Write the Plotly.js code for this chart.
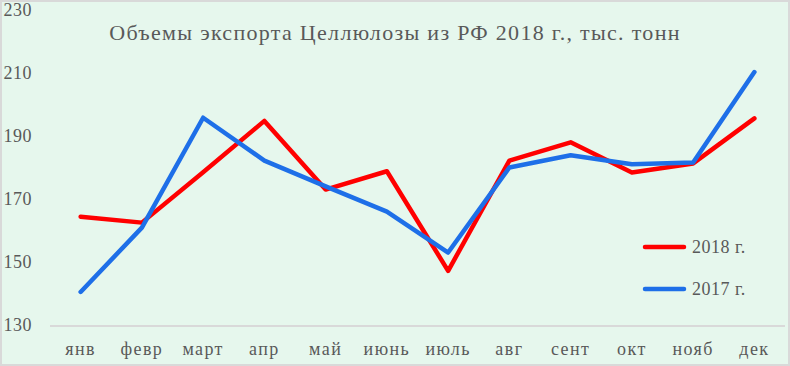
<!DOCTYPE html>
<html>
<head>
<meta charset="utf-8">
<script src="https://cdn.plot.ly/plotly-3.0.1.min.js"></script>
<style>
html, body { margin: 0; padding: 0; background: #ffffff; }
#wrap { position: relative; width: 790px; height: 366px; box-sizing: border-box; border: 2px solid #d9d9d9; background: #e6f7ed; }
#chart { width: 786px; height: 362px; }
.gtitle { letter-spacing: 1.3px; }
.xtick text { letter-spacing: 1.4px; }
.ytick text { letter-spacing: 0.5px; }
.annotation-text { letter-spacing: 0.5px; }
.scatterlayer path.js-line { stroke-linecap: round; stroke-linejoin: round; }
.shapelayer path { stroke-linecap: round; }
</style>
</head>
<body>
<div id="wrap"><div id="chart"></div></div>
<script>
const months = ["янв", "февр", "март", "апр", "май", "июнь", "июль", "авг", "сент", "окт", "нояб", "дек"];
const series2018 = [164.4, 162.5, 178.5, 194.8, 173.0, 178.8, 147.2, 182.2, 188.0, 178.4, 181.3, 195.6];
const series2017 = [140.5, 160.9, 195.8, 182.2, 174.0, 166.0, 153.0, 180.0, 183.9, 181.0, 181.6, 210.3];
const seriesNames = ["2018 г.", "2017 г."];
const seriesColors = ["#ff0000", "#1e6fe8"];
const yTicks = [130, 150, 170, 190, 210, 230];
const titleText = "Объемы экспорта Целлюлозы из РФ 2018 г., тыс. тонн";

const fontFam = "Liberation Serif, DejaVu Serif, serif";
const textColor = "#595959";

const traces = [series2018, series2017].map((vals, i) => ({
  x: months, y: vals, type: "scatter", mode: "lines", name: seriesNames[i],
  line: { color: seriesColors[i], width: 4.5 }, showlegend: false, hoverinfo: "x+y"
}));

// legend drawn as shapes + annotations built from the series names
const legY = [0.2476, 0.1143];
const shapes = seriesNames.map((n, i) => ({
  type: "line", xref: "paper", yref: "paper",
  x0: 0.8095, x1: 0.8626, y0: legY[i], y1: legY[i],
  line: { color: seriesColors[i], width: 4.5 }
}));
const annotations = seriesNames.map((n, i) => ({
  text: n, xref: "paper", yref: "paper", x: 0.8707, y: legY[i],
  xanchor: "left", yanchor: "middle", showarrow: false,
  font: { family: fontFam, size: 18, color: textColor }
}));

const layout = {
  width: 786, height: 362,
  margin: { l: 48, r: 3, t: 8, b: 39 },
  paper_bgcolor: "rgba(0,0,0,0)", plot_bgcolor: "rgba(0,0,0,0)",
  font: { family: fontFam, color: textColor },
  title: {
    text: titleText, font: { family: fontFam, size: 22, color: textColor },
    x: 0.5, xanchor: "center", xref: "container",
    y: 0.917, yanchor: "middle", yref: "container"
  },
  xaxis: {
    type: "category", range: [-0.5, 11.5], showgrid: false, zeroline: false,
    showline: true, linecolor: "#d9d9d9", linewidth: 2, ticks: "",
    ticklabelstandoff: 6, tickfont: { family: fontFam, size: 18, color: textColor }
  },
  yaxis: {
    range: [130, 230], tickvals: yTicks, showgrid: false, zeroline: false, showline: false,
    ticks: "", ticklabelstandoff: 17, ticklabeloverflow: "allow",
    tickfont: { family: fontFam, size: 18, color: textColor }
  },
  shapes: shapes,
  annotations: annotations,
  showlegend: false
};

Plotly.newPlot("chart", traces, layout, { displayModeBar: false, staticPlot: true });
</script>
</body>
</html>
